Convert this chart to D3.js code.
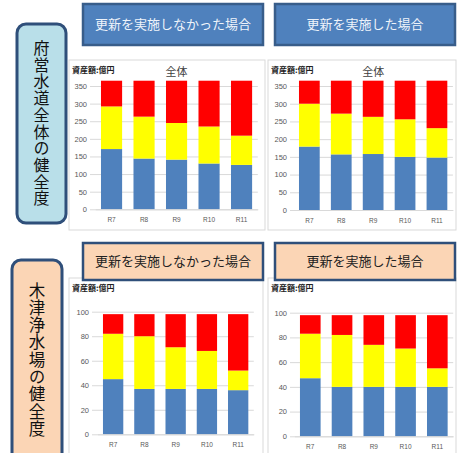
<!DOCTYPE html>
<html><head><meta charset="utf-8">
<script src="https://cdn.jsdelivr.net/npm/d3@7"></script>
<style>
html,body{margin:0;padding:0;background:#fff;}
svg{display:block;font-family:"Noto Sans CJK JP","Noto Sans",sans-serif;}
</style></head>
<body><svg id="c" width="462" height="453"></svg>
<script>
// ---- data ----
const years = ["R7","R8","R9","R10","R11"];
const seriesNames = ["健全資産","経年化資産","老朽化資産"];
// 府営水道全体 (億円)
const wholeNoRenewSound = [171,144,141,130,126];
const wholeNoRenewAging = [121,119,104,105,83];
const wholeNoRenewOld   = [73,102,120,130,156];
const wholeRenewSound   = [179,157,158,150,148];
const wholeRenewAging   = [121,115,105,106,83];
const wholeRenewOld     = [65,93,102,109,134];
// 木津浄水場 (億円)
const kizuNoRenewSound = [45,37,37,37,36];
const kizuNoRenewAging = [37,43,34,31,16];
const kizuNoRenewOld   = [16,18,27,30,46];
const kizuRenewSound   = [47,40,40,40,40];
const kizuRenewAging   = [36,42,34,31,15];
const kizuRenewOld     = [15,16,24,27,43];
const wholeTicks = [0,50,100,150,200,250,300,350];
const kizuTicks  = [0,20,40,60,80,100];
const headerNoRenew = "更新を実施しなかった場合";
const headerRenew = "更新を実施した場合";
const unitLabel = "資産額:億円";
const chartTitle = "全体";
const sideTop = "府営水道全体の健全度";
const sideBottom = "木津浄水場の健全度";
const colors = ["#4f81bd","#ffff00","#ff0000"];

const svg = d3.select("#c");

// ---- side labels ----
function sideLabel(x,y,w,h,fill,text,cx,ty,fs,ls){
  svg.append("rect").attr("x",x).attr("y",y).attr("width",w).attr("height",h)
    .attr("rx",9).attr("fill",fill).attr("stroke","#2f4f7a").attr("stroke-width",3);
  svg.append("text").attr("x",cx).attr("y",ty)
    .style("writing-mode","vertical-rl").style("letter-spacing",ls+"px")
    .attr("font-size",fs).attr("fill","#111").text(text);
}
sideLabel(17,24,49,199,"#b9dfe9",sideTop,41.5,40,16,0.7);
sideLabel(12,260,50,210,"#fbd5b5",sideBottom,37,282,16.5,0.8);

// ---- headers ----
function header(x,y,w,h,fill,stroke,color,text){
  svg.append("rect").attr("x",x).attr("y",y).attr("width",w).attr("height",h)
    .attr("fill",fill).attr("stroke",stroke).attr("stroke-width",2.5);
  svg.append("text").attr("x",x+w/2).attr("y",y+h/2).attr("dy","0.36em")
    .attr("text-anchor","middle").attr("font-size",13).attr("fill",color).text(text);
}
header(83,4,180,41,"#4f81bd","#385d8a","#eef3fa",headerNoRenew);
header(275,4,180,41,"#4f81bd","#385d8a","#eef3fa",headerRenew);

// ---- charts ----
function chart(cfg){
  const {frame, xr, yr, domainMax, ticks, sound, aging, old, title, labelRight} = cfg;
  svg.append("rect").attr("x",frame[0]).attr("y",frame[1]).attr("width",frame[2]).attr("height",frame[3])
    .attr("fill","#fff").attr("stroke","#d9d9d9").attr("stroke-width",1);
  const x = d3.scaleBand().domain(years).range(xr).paddingInner(0.35).paddingOuter(0.175);
  const y = d3.scaleLinear().domain([0,domainMax]).range(yr);
  const gridLeft = labelRight + 3;
  const g = svg.append("g").attr("transform",`translate(${gridLeft},0)`);
  g.call(d3.axisLeft(y).tickValues(ticks).tickSize(-(xr[1]-gridLeft)).tickPadding(3))
    .call(s=>s.select(".domain").remove())
    .call(s=>s.selectAll(".tick line").attr("stroke","#d9d9d9"))
    .call(s=>s.selectAll(".tick text").attr("fill","#595959").attr("font-size",7.5)
      .attr("font-family","Liberation Sans, Arial, sans-serif"));
  const rows = years.map((yr_,i)=>({year:yr_, v:[sound[i],aging[i],old[i]]}));
  const stack = d3.stack().keys([0,1,2]).value((d,k)=>d.v[k])(rows);
  stack.forEach((layer,k)=>{
    svg.append("g").selectAll("rect").data(layer).join("rect")
      .attr("x",d=>x(d.data.year)).attr("width",x.bandwidth())
      .attr("y",d=>y(d[1])).attr("height",d=>y(d[0])-y(d[1]))
      .attr("fill",colors[k]);
  });
  const xg = svg.append("g").attr("transform",`translate(0,${yr[0]})`);
  xg.call(d3.axisBottom(x).tickSize(0).tickPadding(8))
    .call(s=>s.select(".domain").attr("stroke","#d9d9d9"))
    .call(s=>s.selectAll(".tick text").attr("fill","#595959").attr("font-size",6.5)
      .attr("font-family","Liberation Sans, Arial, sans-serif"));
  svg.append("text").attr("x",frame[0]+3).attr("y",frame[1]+13).attr("font-size",8)
    .attr("font-weight","bold").attr("fill","#222").text(unitLabel);
  if(title){
    svg.append("text").attr("x",(xr[0]+xr[1])/2).attr("y",frame[1]+16)
      .attr("text-anchor","middle").attr("font-size",11).attr("fill","#404040").text(title);
  }
}
chart({frame:[69,60,196,170], xr:[95.3,257.8], yr:[209.3,86], domainMax:350, ticks:wholeTicks,
  sound:wholeNoRenewSound, aging:wholeNoRenewAging, old:wholeNoRenewOld, title:chartTitle, labelRight:87});
chart({frame:[268,60,188,170], xr:[293.4,452.9], yr:[210,86], domainMax:350, ticks:wholeTicks,
  sound:wholeRenewSound, aging:wholeRenewAging, old:wholeRenewOld, title:chartTitle, labelRight:287});
chart({frame:[69,278,194,180], xr:[97.5,253.8], yr:[434.3,311.7], domainMax:100, ticks:kizuTicks,
  sound:kizuNoRenewSound, aging:kizuNoRenewAging, old:kizuNoRenewOld, title:null, labelRight:89});
chart({frame:[268,278,188,180], xr:[294.4,453.2], yr:[436.3,312.7], domainMax:100, ticks:kizuTicks,
  sound:kizuRenewSound, aging:kizuRenewAging, old:kizuRenewOld, title:null, labelRight:287});

// bottom headers drawn after frames (they overlap the chart frames)
header(83,243,180,37,"#fbd5b5","#2f4f7a","#222",headerNoRenew);
header(275,243,180,37,"#fbd5b5","#2f4f7a","#222",headerRenew);
</script></body></html>
